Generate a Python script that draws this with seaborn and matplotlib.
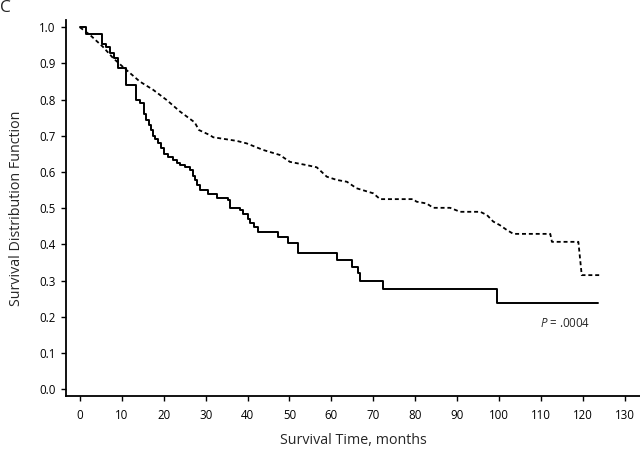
import matplotlib
matplotlib.use("Agg")
import matplotlib.pyplot as plt
import seaborn as sns
import pandas as pd

# Solid curve (Kaplan-Meier, step events: time in months, survival after event)
solid_t = [0, 1.5, 5.2, 6.3, 7.2, 8.2, 9.0, 11.1, 13.5, 14.3, 15.2, 15.8, 16.4,
           17.0, 17.5, 18.0, 18.6, 19.3, 20.0, 21.0, 22.2, 23.2, 24.0, 25.0,
           26.3, 26.9, 27.4, 28.0, 28.6, 30.5, 32.6, 35.3, 35.8, 38.2, 39.0,
           40.0, 40.6, 41.5, 42.5, 47.3, 49.7, 52.1, 61.3, 64.8, 66.4, 66.8,
           72.4, 99.4, 123.7]
solid_s = [1.0, 0.98, 0.955, 0.945, 0.93, 0.915, 0.887, 0.84, 0.80, 0.79, 0.76,
           0.745, 0.73, 0.715, 0.70, 0.69, 0.68, 0.665, 0.65, 0.641, 0.633,
           0.625, 0.62, 0.613, 0.605, 0.59, 0.578, 0.565, 0.55, 0.54, 0.528,
           0.523, 0.50, 0.495, 0.485, 0.47, 0.459, 0.447, 0.434, 0.419, 0.403,
           0.375, 0.357, 0.338, 0.32, 0.30, 0.276, 0.237, 0.237]

# Dashed curve (read points along the curve)
dash_t = [0, 2.4, 5.5, 8.0, 11.1, 14.3, 17.5, 20.7, 23.9, 27.4, 28.4, 31.0,
          31.8, 37.4, 39.8, 43.7, 47.7, 50.1, 54.1, 56.5, 58.9, 61.3, 63.7,
          66.0, 70.0, 71.6, 79.5, 80.3, 82.7, 84.3, 88.3, 90.7, 95.5, 97.1,
          98.6, 100.2, 101.8, 103.4, 112.2, 112.6, 118.9, 119.3, 119.7, 124.1]
dash_s = [1.0, 0.979, 0.946, 0.914, 0.882, 0.85, 0.827, 0.799, 0.767, 0.737,
          0.716, 0.702, 0.696, 0.686, 0.679, 0.661, 0.647, 0.628, 0.619, 0.613,
          0.587, 0.578, 0.573, 0.555, 0.541, 0.525, 0.525, 0.518, 0.513, 0.501,
          0.501, 0.49, 0.49, 0.481, 0.463, 0.453, 0.44, 0.429, 0.429, 0.407,
          0.407, 0.361, 0.315, 0.315]

x_ticks = list(range(0, 131, 10))
y_ticks = [0.0, 0.1, 0.2, 0.3, 0.4, 0.5, 0.6, 0.7, 0.8, 0.9, 1.0]
p_text = "$P$ = .0004"

sns.set_style("ticks")
plt.rcParams['font.family'] = ['Open Sans', 'DejaVu Sans']
plt.rcParams['mathtext.fontset'] = 'custom'
plt.rcParams['mathtext.it'] = 'Open Sans:italic'
plt.rcParams['mathtext.rm'] = 'Open Sans'

fig = plt.figure(figsize=(6.4, 4.53), dpi=100)
ax = fig.add_axes([66 / 640, 1 - 396 / 453, 1 - 66 / 640, (396 - 20) / 453])

solid_df = pd.DataFrame({"t": solid_t, "s": solid_s})
dash_df = pd.DataFrame({"t": dash_t, "s": dash_s})

sns.lineplot(data=solid_df, x="t", y="s", ax=ax, color="black", lw=1.4,
             drawstyle="steps-post", estimator=None, sort=False)
sns.lineplot(data=dash_df, x="t", y="s", ax=ax, color="black", lw=1.3,
             estimator=None, sort=False, linestyle=(0, (2.2, 1.6)))

ax.set_xlim(-3.3, 133.6)
ax.set_ylim(-0.019, 1.02)
ax.set_xticks(x_ticks)
ax.set_yticks(y_ticks)
ax.set_xticklabels([str(v) for v in x_ticks])
ax.set_yticklabels([f"{v:.1f}" for v in y_ticks])
ax.tick_params(axis="both", direction="out", length=3.5, width=1.0,
               labelsize=8.3, colors="black", pad=4)
ax.tick_params(axis="x", pad=6)
for side in ["left", "bottom"]:
    ax.spines[side].set_linewidth(1.3)
    ax.spines[side].set_color("black")
sns.despine(ax=ax)

ax.set_xlabel("Survival Time, months", fontsize=10.3, labelpad=8)
ax.set_ylabel("Survival Distribution Function", fontsize=10.3, labelpad=11)

ax.text(109.8, 0.182, p_text, fontsize=8.3, ha="left", va="center")
fig.text(0.0, 1.0, "C", fontsize=12.5, ha="left", va="top")

fig.savefig("out.png", dpi=100)
